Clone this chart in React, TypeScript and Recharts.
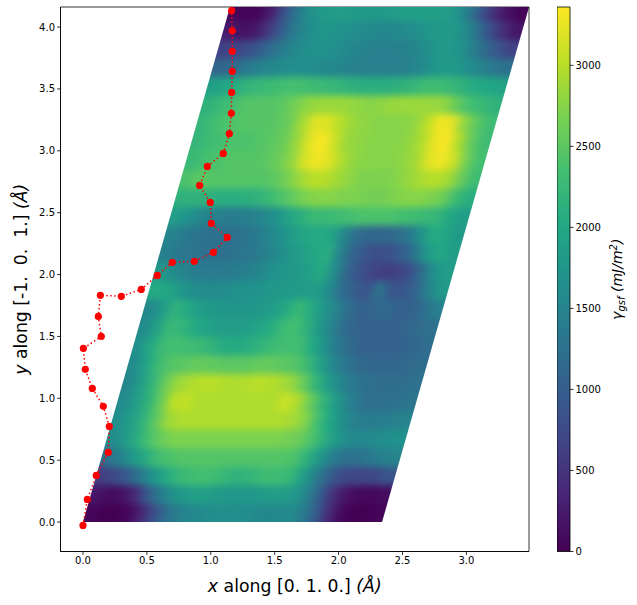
import {
  Bar,
  BarChart,
  Label,
  ReferenceArea,
  Scatter,
  ScatterChart,
  XAxis,
  YAxis,
} from "recharts";

// gamma_gsf in mJ/m2. Rows run top to bottom, columns along [0 1 0].
const gsfRows = [
  [50, 20, 60, 300, 850, 1300, 1650, 1800, 1850, 1850, 1800, 1800, 1800, 1850, 1900, 1900, 1900, 1850, 1700, 1300, 800, 400, 150, 20],
  [250, 150, 200, 500, 900, 1300, 1550, 1700, 1750, 1700, 1650, 1600, 1550, 1550, 1600, 1650, 1750, 1800, 1800, 1600, 1250, 800, 450, 200],
  [650, 700, 800, 1000, 1250, 1450, 1600, 1700, 1700, 1650, 1550, 1500, 1450, 1450, 1450, 1500, 1600, 1750, 1800, 1700, 1450, 1150, 900, 650],
  [1100, 1150, 1300, 1450, 1550, 1600, 1650, 1650, 1600, 1550, 1500, 1450, 1450, 1450, 1450, 1450, 1550, 1700, 1800, 1800, 1650, 1500, 1350, 1250],
  [1900, 2000, 2100, 2200, 2250, 2300, 2350, 2350, 2300, 2250, 2200, 2150, 2100, 2100, 2100, 2150, 2200, 2300, 2300, 2250, 2150, 2050, 2000, 1950],
  [2150, 2250, 2350, 2450, 2450, 2450, 2500, 2650, 2800, 2850, 2850, 2850, 2800, 2750, 2800, 2850, 2850, 2850, 2850, 2800, 2550, 2350, 2250, 2150],
  [2200, 2350, 2400, 2450, 2450, 2450, 2500, 2600, 2900, 3200, 3200, 3000, 2850, 2800, 2750, 2750, 2750, 2800, 3000, 3300, 3250, 2800, 2500, 2300],
  [2200, 2300, 2350, 2400, 2400, 2450, 2500, 2600, 2850, 3200, 3350, 3100, 2850, 2800, 2750, 2750, 2750, 2800, 2950, 3250, 3350, 2950, 2550, 2300],
  [2250, 2350, 2400, 2450, 2450, 2450, 2500, 2600, 2800, 3150, 3300, 3200, 2950, 2800, 2750, 2750, 2750, 2800, 2900, 3200, 3300, 3100, 2650, 2350],
  [2400, 2500, 2450, 2450, 2450, 2450, 2450, 2500, 2650, 2850, 3000, 3000, 2900, 2800, 2700, 2700, 2700, 2750, 2850, 2950, 3000, 2900, 2600, 2300],
  [2150, 2150, 2150, 2100, 2100, 2100, 2150, 2250, 2400, 2550, 2700, 2750, 2750, 2700, 2700, 2650, 2650, 2700, 2750, 2750, 2700, 2600, 2300, 2100],
  [1850, 1700, 1550, 1450, 1400, 1400, 1450, 1550, 1700, 1950, 2100, 2250, 2250, 2300, 2350, 2400, 2400, 2400, 2350, 2300, 2250, 2200, 2000, 1850],
  [1500, 1400, 1300, 1250, 1250, 1250, 1300, 1400, 1550, 1700, 1900, 2000, 2050, 1950, 1500, 1200, 1100, 1100, 1150, 1300, 1650, 2050, 2000, 1800],
  [1450, 1350, 1300, 1250, 1250, 1250, 1300, 1350, 1450, 1600, 1750, 1900, 2000, 2100, 1500, 1100, 900, 800, 850, 1000, 1300, 1800, 2000, 1850],
  [1800, 1600, 1500, 1400, 1400, 1400, 1400, 1450, 1550, 1700, 1750, 1800, 1900, 2050, 1600, 1100, 850, 700, 600, 650, 800, 1200, 1700, 1850],
  [2050, 2000, 1800, 1650, 1600, 1600, 1650, 1700, 1700, 1750, 1800, 1800, 1850, 1850, 1600, 1200, 1000, 850, 1300, 900, 900, 1100, 1500, 1800],
  [1550, 1800, 2150, 2050, 1850, 1800, 1750, 1750, 1750, 1800, 1850, 2050, 2250, 2050, 1750, 1500, 1200, 1050, 1100, 1150, 1050, 1050, 1200, 1450],
  [1600, 1900, 2250, 2200, 2050, 1950, 1850, 1850, 1850, 1950, 2050, 2250, 2350, 2150, 1800, 1500, 1200, 1050, 1050, 1050, 1050, 1100, 1150, 1250],
  [1700, 2050, 2300, 2350, 2300, 2250, 2150, 2050, 2050, 2100, 2200, 2300, 2350, 2300, 2000, 1650, 1350, 1150, 1050, 1050, 1050, 1050, 1100, 1200],
  [1600, 1950, 2300, 2450, 2500, 2550, 2550, 2500, 2500, 2500, 2550, 2550, 2500, 2450, 2250, 1900, 1550, 1300, 1150, 1100, 1100, 1100, 1150, 1200],
  [1550, 1850, 2200, 2600, 2850, 2950, 3000, 3000, 2950, 2950, 3000, 3000, 2950, 2850, 2600, 2200, 1850, 1550, 1350, 1250, 1200, 1200, 1200, 1250],
  [1600, 1850, 2150, 2550, 3000, 3050, 2950, 2950, 2950, 2950, 2950, 2950, 2950, 3100, 2950, 2600, 2200, 1850, 1500, 1300, 1200, 1250, 1250, 1300],
  [1650, 1850, 2150, 2500, 2850, 2950, 2950, 2950, 2950, 2950, 2950, 2950, 2950, 2950, 2900, 2750, 2350, 2000, 1650, 1450, 1400, 1400, 1450, 1500],
  [1600, 1800, 2100, 2400, 2600, 2700, 2700, 2700, 2700, 2700, 2700, 2700, 2700, 2700, 2650, 2600, 2400, 2100, 1800, 1600, 1550, 1600, 1650, 1700],
  [1250, 1450, 1750, 2050, 2300, 2400, 2450, 2450, 2450, 2450, 2450, 2450, 2450, 2450, 2450, 2400, 2150, 1800, 1450, 1250, 1250, 1350, 1450, 1500],
  [600, 750, 950, 1300, 1700, 2000, 2200, 2300, 2350, 2300, 2200, 2150, 2200, 2300, 2300, 2250, 1950, 1500, 1100, 800, 700, 700, 750, 900],
  [200, 100, 150, 350, 900, 1350, 1650, 1800, 1900, 1850, 1800, 1750, 1750, 1800, 1850, 1850, 1750, 1450, 950, 450, 180, 80, 60, 100],
  [50, 0, 0, 60, 350, 800, 1200, 1450, 1550, 1600, 1650, 1650, 1650, 1600, 1550, 1550, 1600, 1400, 1000, 450, 100, 0, 0, 30],
];

// minimum energy path
const pathX = [-0.0, 0.034, 0.104, 0.198, 0.206, 0.159, 0.073, 0.018, 0.003, 0.143, 0.12, 0.136, 0.3, 0.456, 0.581, 0.699, 0.871, 1.02, 1.129, 1.004, 0.996, 0.913, 0.973, 1.098, 1.145, 1.161, 1.163, 1.168, 1.168, 1.168, 1.163];
const pathY = [-0.027, 0.183, 0.377, 0.563, 0.773, 0.935, 1.08, 1.234, 1.403, 1.5, 1.662, 1.832, 1.824, 1.88, 1.993, 2.099, 2.107, 2.179, 2.3, 2.413, 2.583, 2.72, 2.874, 2.979, 3.138, 3.303, 3.472, 3.642, 3.804, 3.97, 4.132];

const xTicks = [0, 0.5, 1, 1.5, 2, 2.5, 3];
const yTicks = [0, 0.5, 1, 1.5, 2, 2.5, 3, 3.5, 4];
const barTicks = [0, 500, 1000, 1500, 2000, 2500, 3000];

const X_DOMAIN = [-0.176, 3.49];
const Y_DOMAIN = [-0.238, 4.162];
const GSF_MAX = 3360;
const CELL_U = 0.0975; // along x
const CELL_V = 0.15; // along y
const SHEAR = 0.2764; // x shift per unit y of the cell

const VIRIDIS = ["#440154", "#482475", "#414487", "#355f8d", "#2a788e", "#21918c", "#22a884", "#44bf70", "#7ad151", "#bddf26", "#fde725"];

const WIDTH = 637;
const HEIGHT = 605;
const LEFT = 60.5;
const RIGHT = 108;
const TOP = 7;
const BOTTOM = 53.5;
const BAR_LEFT = 557;
const FONT = "'DejaVu Sans', sans-serif";

const PLOT_W = WIDTH - LEFT - RIGHT;
const PLOT_H = HEIGHT - TOP - BOTTOM;
const PX_X = PLOT_W / (X_DOMAIN[1] - X_DOMAIN[0]);
const PX_Y = PLOT_H / (Y_DOMAIN[1] - Y_DOMAIN[0]);

function viridis(v: number) {
  const t = Math.min(Math.max(v / GSF_MAX, 0), 1) * (VIRIDIS.length - 1);
  const i = Math.min(Math.floor(t), VIRIDIS.length - 2);
  const f = t - i;
  const ch = (hex: string, p: number) => parseInt(hex.slice(p, p + 2), 16);
  const mix = (p: number) =>
    Math.round(ch(VIRIDIS[i], p) * (1 - f) + ch(VIRIDIS[i + 1], p) * f);
  return `rgb(${mix(1)},${mix(3)},${mix(5)})`;
}

// one ring of clamped cells around the matrix so the blur has no pale rim
const nRows = gsfRows.length;
const nCols = gsfRows[0].length;
const cells: { x: number; y: number; gsf: number }[] = [];
for (let r = -1; r <= nRows; r++) {
  for (let c = -1; c <= nCols; c++) {
    const row = gsfRows[Math.min(Math.max(nRows - 1 - r, 0), nRows - 1)];
    const y = (r + 0.5) * CELL_V;
    cells.push({
      x: (c + 0.5) * CELL_U + SHEAR * y,
      y,
      gsf: row[Math.min(Math.max(c, 0), nCols - 1)],
    });
  }
}

const path = pathX.map((x, i) => ({ x, y: pathY[i] }));
const barData = [{ name: "gsf", top: GSF_MAX }];

const pxX = (x: number) => LEFT + (x - X_DOMAIN[0]) * PX_X;
const pxY = (y: number) => TOP + (Y_DOMAIN[1] - y) * PX_Y;
const slabWidth = nCols * CELL_U;
const slabTop = Y_DOMAIN[1];
const slabPoints = [
  [0, 0],
  [slabWidth, 0],
  [slabWidth + SHEAR * slabTop, slabTop],
  [SHEAR * slabTop, slabTop],
]
  .map(([x, y]) => `${pxX(x)},${pxY(y)}`)
  .join(" ");

function HeatCell(props: any) {
  const { cx, cy, payload } = props;
  const hw = (CELL_U * PX_X) / 2 + 0.5;
  const hh = (CELL_V * PX_Y) / 2 + 0.5;
  const k = (SHEAR * PX_X) / PX_Y;
  const d = `${cx - hw + k * hh},${cy - hh} ${cx + hw + k * hh},${cy - hh} ${cx + hw - k * hh},${cy + hh} ${cx - hw - k * hh},${cy + hh}`;
  return <polygon points={d} fill={viridis(payload.gsf)} />;
}

function PathDot(props: any) {
  return <circle cx={props.cx} cy={props.cy} r={3.6} fill="#ff0000" />;
}

function XTitle({ viewBox }: any) {
  return (
    <text
      x={viewBox.x + viewBox.width / 2}
      y={592}
      textAnchor="middle"
      fontSize={17.3}
      fontFamily={FONT}
      fill="#000"
    >
      <tspan fontStyle="italic">x</tspan> along [0. 1. 0.] <tspan fontStyle="italic">(Å)</tspan>
    </text>
  );
}

function YTitle({ viewBox }: any) {
  const cy = viewBox.y + viewBox.height / 2;
  return (
    <text
      transform={`translate(27,${cy}) rotate(-90)`}
      textAnchor="middle"
      fontSize={17.3}
      fontFamily={FONT}
      fill="#000"
    >
      <tspan fontStyle="italic">y</tspan> along [-1.{"\u00a0 "}0.{"\u00a0 "}1.] <tspan fontStyle="italic">(Å)</tspan>
    </text>
  );
}

function BarTitle({ viewBox }: any) {
  const cy = viewBox.y + viewBox.height / 2;
  return (
    <text
      transform={`translate(${622 - BAR_LEFT},${cy}) rotate(-90)`}
      textAnchor="middle"
      fontSize={14}
      fontFamily={FONT}
      fontStyle="italic"
      fill="#000"
    >
      γ<tspan dy={3} fontSize={10}>gsf</tspan>
      <tspan dy={-3}> (mJ/m</tspan>
      <tspan dy={-5} fontSize={10}>2</tspan>
      <tspan dy={5}>)</tspan>
    </text>
  );
}

export default function App() {
  const tick = { fontSize: 10, fill: "#000", fontFamily: FONT };
  const axisLine = { stroke: "#000", strokeWidth: 0.8 };
  return (
    <div style={{ position: "absolute", left: 0, top: 0, width: WIDTH, height: HEIGHT, background: "#fff" }}>
      <style>{`.heat { filter: url(#cellBlur); clip-path: url(#slab); }`}</style>
      <ScatterChart
        width={WIDTH}
        height={HEIGHT}
        margin={{ top: TOP, right: RIGHT, bottom: 0, left: 0 }}
        style={{ position: "absolute", left: 0, top: 0 }}
      >
        <defs>
          <filter
            id="cellBlur"
            filterUnits="userSpaceOnUse"
            x={0}
            y={-40}
            width={WIDTH}
            height={HEIGHT + 80}
            colorInterpolationFilters="sRGB"
          >
            <feGaussianBlur stdDeviation="5 3.8" />
          </filter>
          <clipPath id="slab">
            <polygon points={slabPoints} />
          </clipPath>
        </defs>
        <XAxis
          type="number"
          dataKey="x"
          domain={X_DOMAIN}
          ticks={xTicks}
          allowDataOverflow
          height={BOTTOM}
          tick={tick}
          tickSize={3.5}
          tickLine={axisLine}
          axisLine={axisLine}
          tickFormatter={(v: number) => v.toFixed(1)}
        >
          <Label content={<XTitle />} />
        </XAxis>
        <YAxis
          type="number"
          dataKey="y"
          domain={Y_DOMAIN}
          ticks={yTicks}
          allowDataOverflow
          width={LEFT}
          tick={tick}
          tickSize={3.5}
          tickLine={axisLine}
          axisLine={axisLine}
          tickFormatter={(v: number) => v.toFixed(1)}
        >
          <Label content={<YTitle />} />
        </YAxis>
        <Scatter data={cells} className="heat" shape={<HeatCell />} isAnimationActive={false} />
        <ReferenceArea
          x1={X_DOMAIN[0]}
          x2={X_DOMAIN[1]}
          y1={Y_DOMAIN[0]}
          y2={Y_DOMAIN[1]}
          fill="none"
          stroke="#000"
          strokeWidth={0.8}
        />
        <Scatter
          data={path}
          line={{ stroke: "#ff0000", strokeWidth: 1.5, strokeDasharray: "1.5 2.5" }}
          shape={<PathDot />}
          isAnimationActive={false}
        />
      </ScatterChart>
      <BarChart
        width={WIDTH - BAR_LEFT}
        height={HEIGHT}
        data={barData}
        barCategoryGap={0}
        margin={{ top: TOP, right: 0, bottom: BOTTOM, left: 0 }}
        style={{ position: "absolute", left: BAR_LEFT, top: 0 }}
      >
        <defs>
          <linearGradient id="viridisBar" x1="0" y1="1" x2="0" y2="0">
            {VIRIDIS.map((c, i) => (
              <stop key={c} offset={i / (VIRIDIS.length - 1)} stopColor={c} />
            ))}
          </linearGradient>
        </defs>
        <XAxis dataKey="name" hide />
        <YAxis
          orientation="right"
          type="number"
          domain={[0, GSF_MAX]}
          ticks={barTicks}
          width={WIDTH - BAR_LEFT - 13}
          tick={tick}
          tickSize={3.5}
          tickLine={axisLine}
          axisLine={false}
        >
          <Label content={<BarTitle />} />
        </YAxis>
        <Bar dataKey="top" fill="url(#viridisBar)" stroke="#000" strokeWidth={0.8} isAnimationActive={false} />
      </BarChart>
    </div>
  );
}
